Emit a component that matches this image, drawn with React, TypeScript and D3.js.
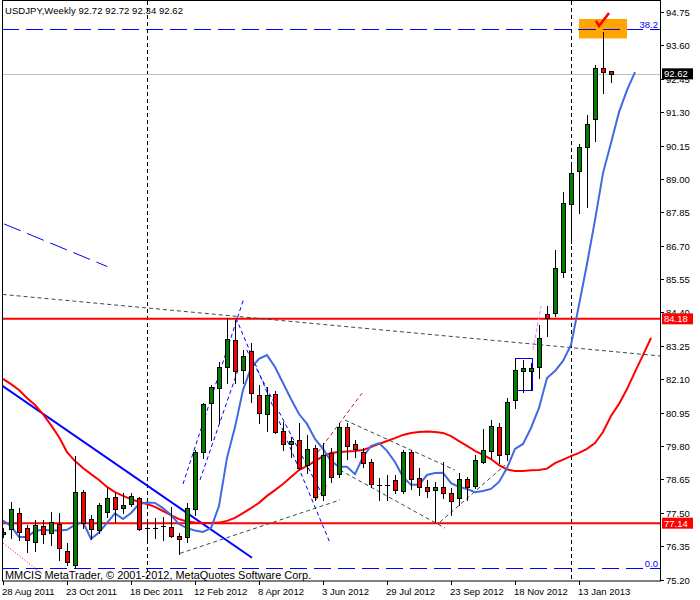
import React from 'react';
import * as d3 from 'd3';

// ---------- data ----------
const tickBars = [0, 8, 16, 24, 32, 40, 48, 56, 64, 72];
const tickDates = ['28 Aug 2011', '23 Oct 2011', '18 Dec 2011', '12 Feb 2012', '8 Apr 2012', '3 Jun 2012', '29 Jul 2012', '23 Sep 2012', '18 Nov 2012', '13 Jan 2013'];
const priceTicks = [94.75, 93.6, 92.45, 91.3, 90.15, 89.0, 87.85, 86.7, 85.55, 84.4, 83.25, 82.1, 80.95, 79.8, 78.65, 77.5, 76.35, 75.2];

const opens = [76.77, 76.93, 77.48, 76.96, 76.50, 77.05, 76.79, 77.10, 76.19, 75.70,
  78.20, 77.27, 76.91, 77.54, 78.05, 77.65, 77.79, 78.00, 76.98, 76.98,
  77.04, 77.00, 76.71, 76.65, 77.62, 79.60, 81.27, 81.79, 82.53, 83.45,
  82.42, 83.08, 81.56, 80.89, 81.59, 80.32, 79.86, 80.01, 79.13, 79.72,
  78.11, 79.57, 78.83, 80.46, 79.86, 79.60, 79.26, 78.46, 78.46, 78.63,
  78.25, 79.58, 78.71, 78.38, 78.28, 78.38, 78.17, 78.00, 78.65, 78.42,
  79.26, 79.64, 80.45, 79.52, 81.38, 82.38, 82.38, 82.53, 84.34, 84.37,
  85.80, 88.13, 89.28, 90.09, 91.05, 92.81, 92.72];
const highs = [76.97, 77.88, 77.65, 77.08, 77.25, 77.25, 77.54, 77.48, 76.46, 79.45,
  78.28, 77.42, 77.85, 78.34, 78.19, 78.17, 78.17, 78.05, 77.25, 77.31,
  77.34, 77.71, 76.81, 77.85, 79.66, 81.29, 81.90, 82.70, 84.20, 84.14,
  83.11, 83.36, 81.90, 81.82, 81.70, 80.64, 80.12, 80.58, 80.18, 79.83,
  79.89, 79.72, 80.60, 80.60, 80.01, 79.72, 79.34, 78.69, 78.80, 78.80,
  79.66, 79.66, 79.03, 78.63, 78.57, 79.26, 78.34, 78.88, 78.74, 79.49,
  80.37, 80.69, 80.60, 81.44, 82.83, 82.76, 82.65, 83.97, 84.62, 86.55,
  88.55, 89.54, 90.20, 91.20, 92.92, 94.07, 92.72];
const lows = [76.66, 76.62, 76.56, 76.16, 76.19, 76.47, 76.39, 75.87, 75.70, 75.60,
  76.96, 76.59, 76.81, 77.36, 77.19, 77.48, 77.73, 76.91, 76.56, 76.62,
  76.56, 76.65, 76.08, 76.50, 77.42, 79.38, 80.01, 80.58, 81.98, 81.98,
  81.96, 81.32, 80.60, 80.33, 80.25, 79.66, 79.43, 79.00, 78.86, 77.94,
  77.94, 78.57, 78.74, 79.34, 79.43, 79.09, 78.40, 77.94, 77.94, 78.17,
  78.17, 78.31, 78.11, 78.05, 77.19, 78.00, 77.42, 77.77, 77.94, 78.34,
  79.20, 79.38, 79.20, 79.32, 81.10, 81.67, 81.73, 82.13, 83.59, 84.28,
  85.63, 86.78, 87.82, 88.04, 90.32, 91.97, 92.34];
const closes = [76.85, 77.62, 76.85, 76.56, 77.08, 76.77, 77.19, 76.27, 75.81, 78.22,
  77.14, 76.93, 77.77, 78.00, 77.62, 77.77, 78.09, 76.93, 76.98, 76.98,
  77.04, 76.70, 76.61, 77.65, 79.59, 81.24, 81.82, 82.51, 83.47, 82.39,
  82.90, 81.63, 80.95, 81.56, 80.29, 79.86, 79.96, 79.03, 79.69, 78.03,
  79.49, 78.74, 80.44, 79.81, 79.69, 79.20, 78.48, 78.46, 78.46, 78.28,
  79.58, 78.65, 78.38, 78.25, 78.40, 78.17, 77.91, 78.65, 78.40, 79.32,
  79.66, 80.49, 79.49, 81.30, 82.42, 82.48, 82.47, 83.51, 84.22, 85.92,
  88.16, 89.19, 90.11, 90.88, 92.81, 92.67, 92.62];

// slow moving average (shifted forward)
const maSlow = [82.11, 81.93, 81.73, 81.45, 81.21, 80.90, 80.52, 80.11, 79.59, 79.28,
  79.04, 78.83, 78.63, 78.39, 78.21, 78.08, 77.97, 77.87, 77.80, 77.70,
  77.56, 77.42, 77.28, 77.20, 77.16, 77.15, 77.15, 77.16, 77.22, 77.32,
  77.49, 77.66, 77.84, 78.08, 78.28, 78.49, 78.73, 78.97, 79.11, 79.28,
  79.45, 79.56, 79.59, 79.61, 79.63, 79.66, 79.76, 79.87, 79.97, 80.07,
  80.18, 80.25, 80.28, 80.30, 80.28, 80.25, 80.14, 79.97, 79.80, 79.63,
  79.49, 79.35, 79.14, 78.99, 78.94, 78.94, 78.96, 78.97, 79.02, 79.21,
  79.33, 79.45, 79.56, 79.70, 79.90, 80.28, 80.83, 81.25, 81.76, 82.35,
  82.93, 83.52];
// fast moving average (shifted forward)
const maFast = [77.23, 77.04, 76.66, 76.66, 76.87, 76.91, 76.89, 76.89, 76.91, 77.08,
  77.18, 76.60, 76.82, 77.15, 77.48, 77.28, 77.49, 77.80, 77.85, 77.84,
  77.66, 77.42, 77.11, 76.97, 76.89, 76.84, 76.97, 77.73, 79.39, 80.45,
  81.73, 82.49, 82.80, 82.93, 82.52, 81.97, 81.42, 80.90, 80.56, 80.04,
  79.70, 79.28, 79.08, 79.08, 78.83, 79.42, 79.80, 79.90, 79.63, 79.25,
  78.73, 78.46, 78.46, 78.80, 78.87, 78.88, 78.52, 78.39, 78.32, 78.21,
  78.25, 78.32, 78.56, 79.04, 79.70, 79.87, 80.42, 81.11, 82.14, 82.38,
  82.73, 83.28, 84.66, 86.07, 87.58, 89.20, 90.24, 91.30, 92.06, 92.68];

const levelLines = [84.18, 77.14];
const bidPrice = 92.62;
const fibLevels = [{ label: '38.2', price: 94.16 }, { label: '0.0', price: 75.60 }];
const separatorBars = [18, 71];
const headerText = 'USDJPY,Weekly  92.72 92.72 92.34 92.62';
const footerText = 'MMCIS MetaTrader, © 2001-2012, MetaQuotes Software Corp.';

// trend objects: [bar1, price1, bar2, price2, kind]
const trendObjects: [number, number, number, number, string][] = [
  [-0.125, 81.88, 31.125, 75.95, 'blueThick'],
  [0.125, 87.45, 13.04, 85.98, 'blueDash'],
  [-0.04, 85.02, 82.16, 82.90, 'grayDash'],
  [0.04, 76.45, 4.875, 75.40, 'redDot'],
  [22.5, 78.49, 30.04, 84.83, 'blueThin'],
  [24.625, 78.63, 29.375, 82.42, 'blueThin'],
  [29.125, 84.21, 40.875, 76.46, 'blueThin'],
  [30.46, 83.11, 40.04, 78.05, 'blueThin'],
  [22.125, 76.10, 42.125, 77.94, 'grayDash'],
  [42.75, 80.69, 56.5, 78.97, 'grayDash'],
  [42.125, 78.97, 55.25, 76.97, 'grayDash'],
  [54.625, 77.18, 62.75, 79.14, 'grayDash'],
  [39.375, 79.59, 44.875, 81.62, 'redDash'],
  [39.1, 77.94, 40.6, 78.49, 'redDash'],
  [66.25, 83.11, 67.25, 84.62, 'violetDash'],
];
const boxBlue = { b1: 64, b2: 66.1, p1: 82.83, p2: 81.73 };
const boxOrange = { b1: 72, b2: 78, p1: 94.51, p2: 93.84 };
const checkMark = { bar: 74.5, price: 94.27 };

const styles: Record<string, { stroke: string; w: number; dash?: string }> = {
  blueThick: { stroke: '#0000FF', w: 2 },
  blueDash: { stroke: '#0000FF', w: 1, dash: '18,7' },
  grayDash: { stroke: '#2F4F4F', w: 1, dash: '4,3' },
  redDot: { stroke: '#FF0000', w: 1, dash: '1,2' },
  blueThin: { stroke: '#0000FF', w: 1, dash: '4,3' },
  redDash: { stroke: '#B22222', w: 1, dash: '4,3' },
  violetDash: { stroke: '#EE82EE', w: 1, dash: '4,2' },
};

const FONT = '"Liberation Sans", Arial, sans-serif';

export default function App() {
  const L = 2, R = 660, T = 1, B = 581;
  const x = d3.scaleLinear().domain([0, 82]).range([3, 659]);
  const y = d3.scaleLinear().domain([75.2, 94.75]).range([579.5, 12]);
  const col = (i: number) => Math.round(x(i));
  const row = (p: number) => Math.round(y(p));

  const lineMA = d3.line<number>().x((_, i) => x(i)).y((d) => y(d));
  const candles = opens.map((o, i) => ({ o, h: highs[i], l: lows[i], c: closes[i], i }));
  const tags = [{ p: bidPrice, c: '#000' }, ...levelLines.map((p) => ({ p, c: '#FF0000' }))];

  return (
    <svg width={700} height={600} style={{ display: 'block', position: 'absolute', left: 0, top: 0, background: '#fff' }} fontFamily={FONT}>
      <rect x={0} y={0} width={700} height={600} fill="#fff" />
      <defs>
        <clipPath id="plot"><rect x={L} y={T} width={R - L} height={B - T} /></clipPath>
      </defs>
      <g clipPath="url(#plot)">
        {separatorBars.map((b) => (
          <line key={'s' + b} x1={col(b) + 0.5} x2={col(b) + 0.5} y1={T} y2={B} stroke="#000" strokeWidth={1} strokeDasharray="4,3" />
        ))}
        {fibLevels.map((f) => (
          <line key={f.label} x1={L} x2={R} y1={row(f.price) + 0.5} y2={row(f.price) + 0.5} stroke="#0000FF" strokeWidth={1} strokeDasharray="17,7" />
        ))}
        <rect x={x(boxOrange.b1)} y={y(boxOrange.p1)} width={x(boxOrange.b2) - x(boxOrange.b1)} height={y(boxOrange.p2) - y(boxOrange.p1)} fill="#FFA500" />
        <line x1={x(boxOrange.b1)} x2={x(boxOrange.b2)} y1={row(fibLevels[0].price) + 0.5} y2={row(fibLevels[0].price) + 0.5} stroke="#0000FF" strokeWidth={1} strokeDasharray="17,7" />
        <line x1={L} x2={R} y1={row(bidPrice) + 0.5} y2={row(bidPrice) + 0.5} stroke="#C0C0C0" strokeWidth={1} />
        {levelLines.map((p) => (
          <line key={'l' + p} x1={L} x2={R} y1={y(p)} y2={y(p)} stroke="#FF0000" strokeWidth={2} />
        ))}
        {trendObjects.map((t, k) => {
          const s = styles[t[4]];
          return <line key={'t' + k} x1={x(t[0])} y1={y(t[1])} x2={x(t[2])} y2={y(t[3])} stroke={s.stroke} strokeWidth={s.w} strokeDasharray={s.dash} />;
        })}
        <rect x={Math.round(x(boxBlue.b1)) + 0.5} y={row(boxBlue.p1) + 0.5} width={Math.round(x(boxBlue.b2) - x(boxBlue.b1))} height={row(boxBlue.p2) - row(boxBlue.p1)} fill="none" stroke="#0000FF" strokeWidth={1} />
        <path d={lineMA(maSlow) || ''} fill="none" stroke="#FF0000" strokeWidth={2} />
        <path d={lineMA(maFast) || ''} fill="none" stroke="#4169E1" strokeWidth={2} />
        {candles.map((d) => {
          const cx = col(d.i);
          const yo = row(d.o), yc = row(d.c);
          const top = Math.min(yo, yc), bot = Math.max(yo, yc);
          const up = d.c >= d.o;
          return (
            <g key={'c' + d.i}>
              <line x1={cx + 0.5} x2={cx + 0.5} y1={row(d.h)} y2={row(d.l) + 1} stroke="#000" strokeWidth={1} />
              {bot - top < 1 ? (
                <line x1={cx - 2} x2={cx + 3} y1={top + 0.5} y2={top + 0.5} stroke="#000" strokeWidth={1} />
              ) : (
                <rect x={cx - 2 + 0.5} y={top + 0.5} width={4} height={bot - top} fill={up ? '#008000' : '#FF0000'} stroke="#000" strokeWidth={1} />
              )}
            </g>
          );
        })}
        <path d={`M${x(checkMark.bar) - 3},${y(checkMark.price) - 5} L${x(checkMark.bar)},${y(checkMark.price)} L${x(checkMark.bar) + 10},${y(checkMark.price) - 13}`} fill="none" stroke="#FF0000" strokeWidth={2.5} />
        {fibLevels.map((f) => (
          <text key={'fl' + f.label} x={658} y={row(f.price) - 1.5} textAnchor="end" fontSize={9.5} fill="#0000FF">{f.label}</text>
        ))}
      </g>
      <rect x={L + 0.5} y={T - 0.5} width={R - L} height={B - T + 0.5} fill="none" stroke="#000" strokeWidth={1} />
      <text x={5} y={14} fontSize={9.5} fill="#000" textLength={178} lengthAdjust="spacing">{headerText}</text>
      <text x={5} y={579} fontSize={11} fill="#000" textLength={306} lengthAdjust="spacingAndGlyphs">{footerText}</text>
      {priceTicks.map((p) => (
        <g key={'yt' + p}>
          <line x1={R} x2={R + 4} y1={row(p) + 0.5} y2={row(p) + 0.5} stroke="#000" />
          <text x={666} y={row(p) + 3.5} fontSize={9.5} fill="#000">{p.toFixed(2)}</text>
        </g>
      ))}
      {tags.map((t) => (
        <g key={'tag' + t.p}>
          <rect x={662} y={y(t.p) - 5.5} width={31} height={11} fill={t.c} />
          <text x={664} y={y(t.p) + 3.5} fontSize={9.5} fill="#fff">{t.p.toFixed(2)}</text>
        </g>
      ))}
      {tickBars.map((b, k) => (
        <g key={'xt' + b}>
          <line x1={col(b) + 0.5} x2={col(b) + 0.5} y1={B} y2={B + 4} stroke="#000" />
          <text x={col(b) - 1} y={595} fontSize={9.5} fill="#000">{tickDates[k]}</text>
        </g>
      ))}
    </svg>
  );
}
